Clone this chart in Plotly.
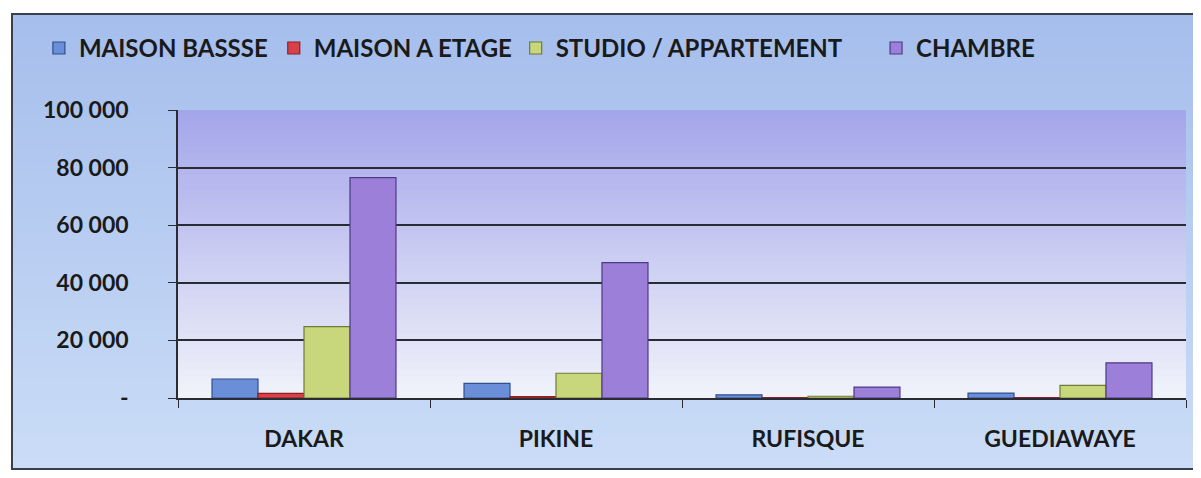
import plotly.graph_objects as go

communes = ["DAKAR", "PIKINE", "RUFISQUE", "GUEDIAWAYE"]
maison_basse = [6600, 5100, 1100, 1700]
maison_etage = [1600, 500, 100, 100]
studio_appart = [24800, 8600, 600, 4400]
chambre = [76500, 47000, 3800, 12200]

y_ticks = [0, 20000, 40000, 60000, 80000, 100000]
y_labels = ["-", "20 000", "40 000", "60 000", "80 000", "100 000"]

series = [
    ("MAISON BASSSE", maison_basse, "#6a8fd8", "#2f4f8f"),
    ("MAISON A ETAGE", maison_etage, "#d9414a", "#8a1f25"),
    ("STUDIO / APPARTEMENT", studio_appart, "#c9d77c", "#6f7a35"),
    ("CHAMBRE", chambre, "#9b7fd8", "#4e3a86"),
]
legend_ids = ["legend2", "legend3", "legend4", "legend5"]
legend_x = [-0.138, 0.095, 0.335, 0.6925]

fig = go.Figure()
for (name, vals, col, edge), lg in zip(series, legend_ids):
    fig.add_trace(go.Bar(
        x=communes, y=vals, name=name, legend=lg,
        marker=dict(color=col, line=dict(color=edge, width=1.2)),
    ))

# page body has an 8px margin, so the figure is a bit smaller than the window
W, H = 1185, 462
L, R, T, B = 170, 7, 102, 72
pw, ph = W - L - R, H - T - B

def px2paper(x, y):
    return (x - L) / pw, (H - B - y) / ph

def mix(c1, c2, t):
    return "rgb(%d,%d,%d)" % tuple(round(a + (b - a) * t) for a, b in zip(c1, c2))

shapes = []
n = 40
# outer frame gradient (overlapping strips so no seams)
fx0, fx1, fy0, fy1 = 4, 1186, 6, 461
for i in range(n):
    y0 = fy0 + (fy1 - fy0) * i / n
    a, b = px2paper(fx0, y0)
    c, d = px2paper(fx1, fy1)
    shapes.append(dict(type="rect", xref="paper", yref="paper", x0=a, x1=c, y0=d, y1=b,
                       fillcolor=mix((166, 190, 236), (202, 220, 246), i / (n - 1)),
                       line=dict(width=0), layer="below"))
a, b = px2paper(fx0, fy0)
c, d = px2paper(fx1, fy1)
shapes.append(dict(type="rect", xref="paper", yref="paper", x0=a, x1=c, y0=d, y1=b,
                   fillcolor="rgba(0,0,0,0)", line=dict(color="#3a3f4a", width=2), layer="below"))
# plot area gradient
for i in range(n):
    shapes.append(dict(type="rect", xref="paper", yref="paper", x0=0, x1=1,
                       y0=0, y1=1 - i / n,
                       fillcolor=mix((164, 166, 234), (240, 242, 250), i / (n - 1)),
                       line=dict(width=0), layer="below"))

font = dict(family="Lato", size=23, color="#1a1a1a", weight="bold")
legend_font = dict(family="Lato", size=24, color="#1a1a1a", weight="bold")

fig.update_layout(
    width=W, height=H,
    margin=dict(l=L, r=R, t=T, b=B),
    paper_bgcolor="white",
    plot_bgcolor="rgba(0,0,0,0)",
    barmode="group", bargap=0.27, bargroupgap=0,
    font=font,
    shapes=shapes,
)
for lg, lx in zip(legend_ids, legend_x):
    fig.update_layout({lg: dict(orientation="h", x=lx, y=1.292, xanchor="left", yanchor="top",
                                font=legend_font, bgcolor="rgba(0,0,0,0)", itemwidth=30)})

fig.update_yaxes(
    range=[0, 100000], tickvals=y_ticks, ticktext=y_labels,
    showgrid=True, gridcolor="#2b2b33", gridwidth=1.5,
    showline=True, linecolor="#2b2b33", linewidth=1.5,
    ticks="outside", ticklen=8, tickcolor="#2b2b33", ticklabelstandoff=35,
    zeroline=False, tickfont=font,
)
fig.update_xaxes(
    showline=True, linecolor="#2b2b33", linewidth=1.5,
    ticks="outside", tickson="boundaries", ticklen=8, tickcolor="#2b2b33",
    tickfont=font, ticklabelstandoff=20,
)

fig.write_html("out.html")
